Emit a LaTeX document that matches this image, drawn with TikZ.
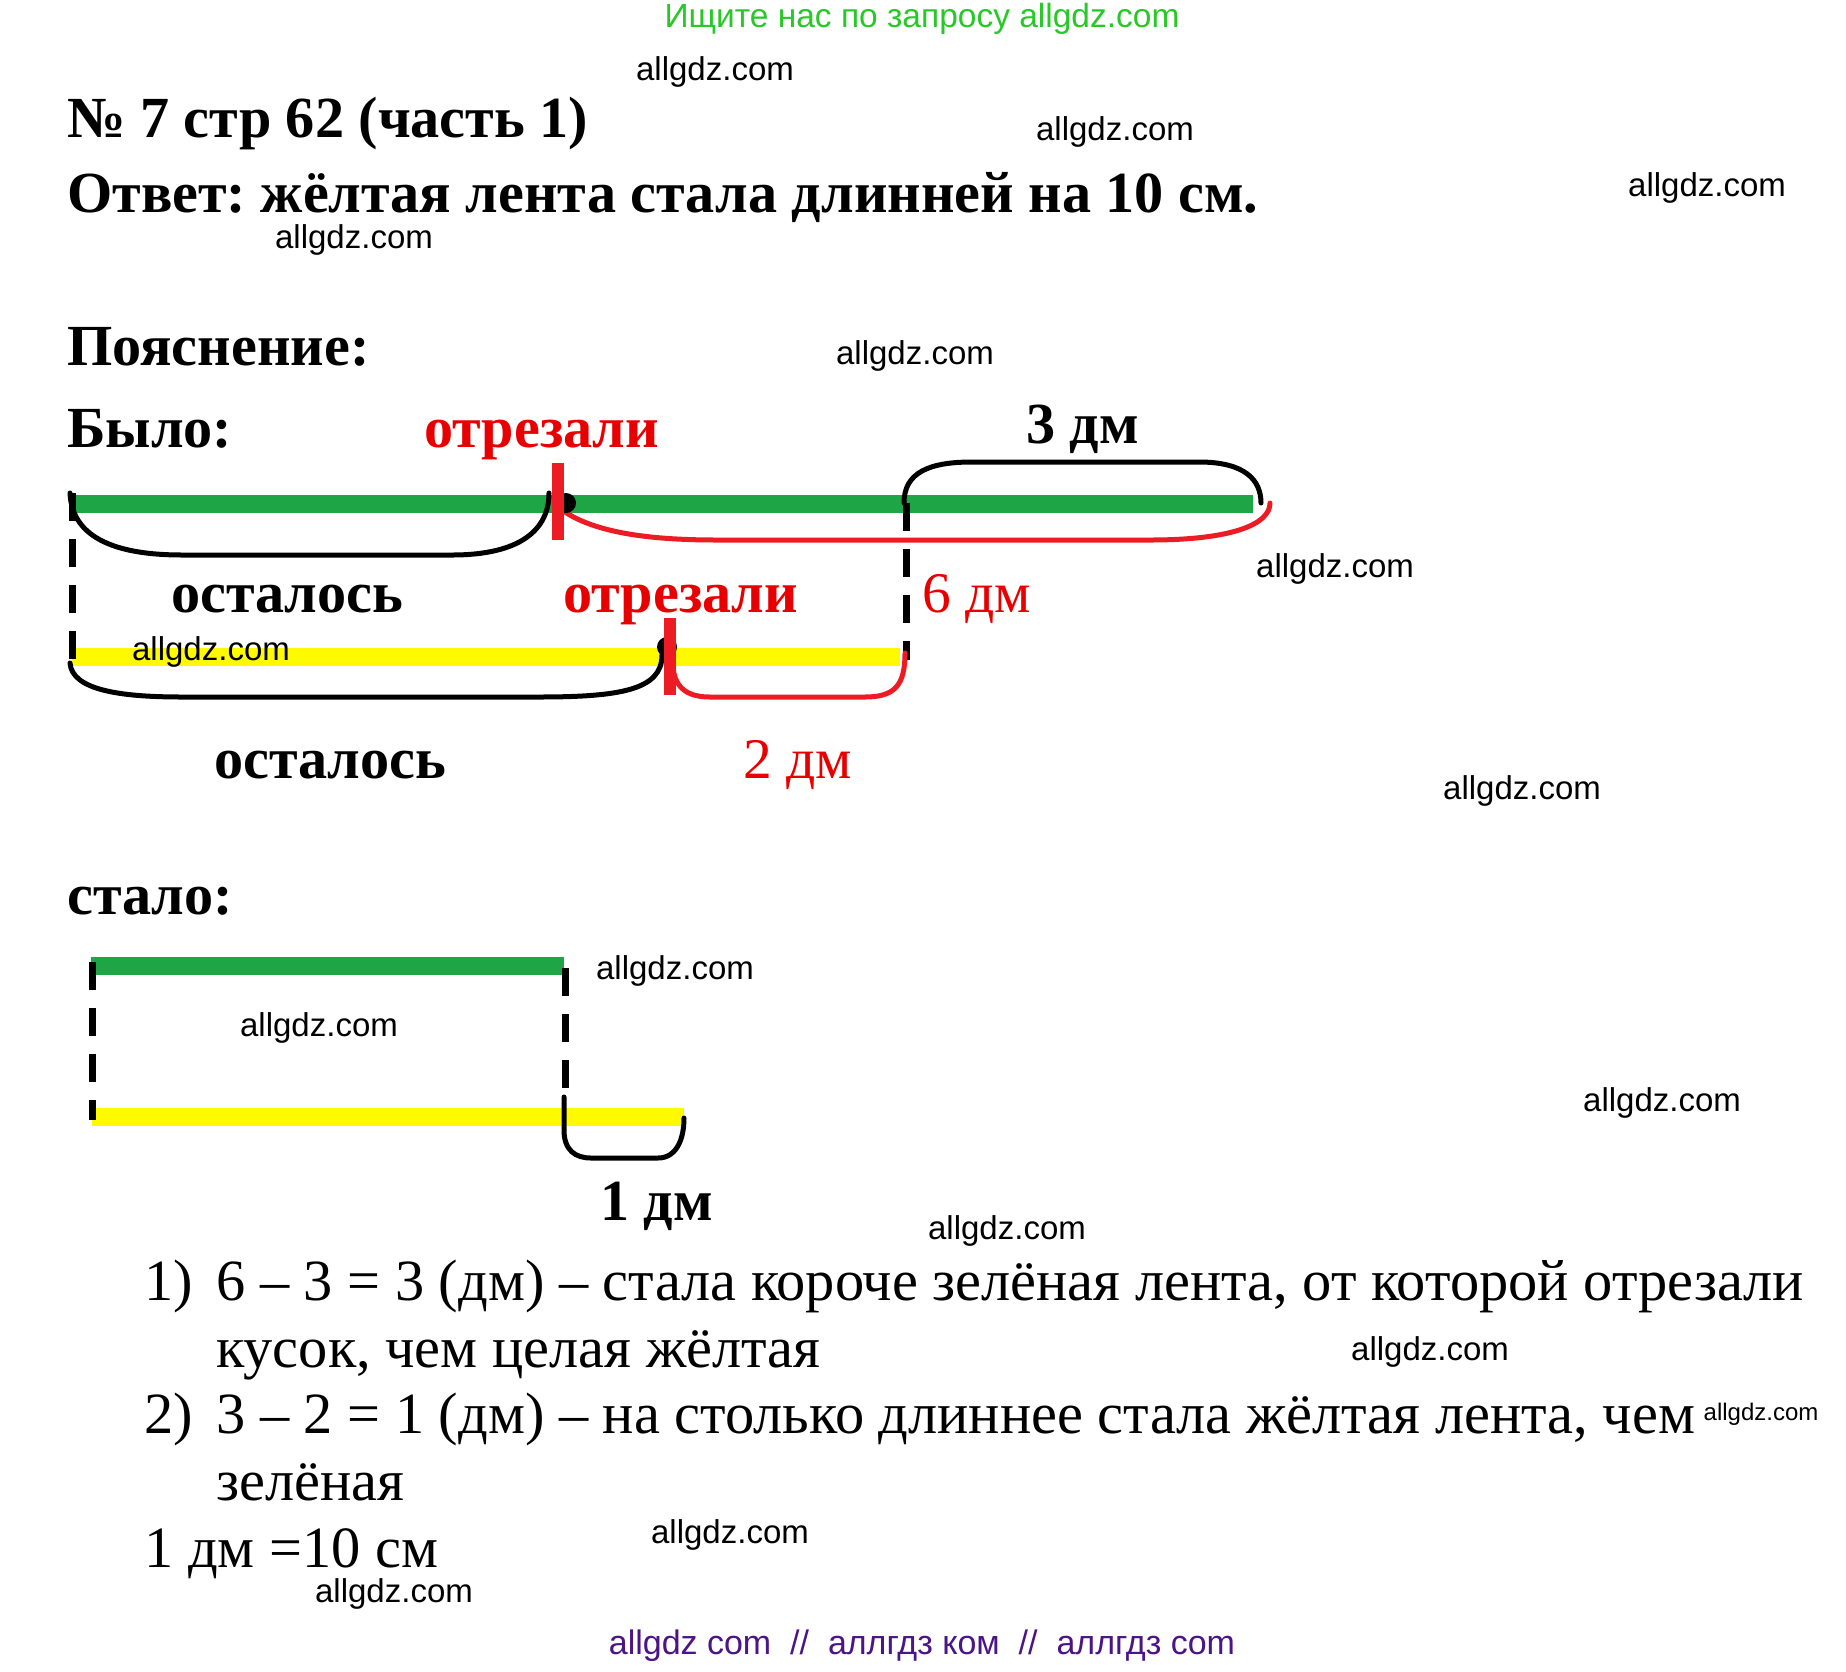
\documentclass[tikz,border=0pt]{standalone}
\usepackage{fontspec}
\usepackage{tikz}
\setmainfont{Liberation Serif}
\newfontfamily\wmfont{Liberation Sans}
\frenchspacing
\definecolor{lentaGreen}{RGB}{30,165,70}
\definecolor{lentaYellow}{RGB}{255,250,0}
\definecolor{cutRed}{RGB}{237,28,36}
\definecolor{txtRed}{RGB}{232,0,0}
\definecolor{siteGreen}{RGB}{40,200,40}
\definecolor{sitePurple}{RGB}{75,20,135}
\tikzset{
  head/.style={anchor=base west, inner sep=0pt, font=\fontsize{58.2}{64}\selectfont\bfseries},
  calc/.style={anchor=base west, inner sep=0pt, font=\fontsize{58.4}{66}\selectfont},
  wmark/.style={inner sep=0pt, font=\wmfont\fontsize{33}{36}\selectfont},
  lenta/.style={line width=18pt},
  skobka/.style={line width=5pt, line cap=round},
  rez/.style={cutRed, line width=12pt},
  punktir/.style={line width=7pt, dash pattern=on 28pt off 18pt}
}

\begin{document}
\begin{tikzpicture}[x=1pt, y=-1pt]
\useasboundingbox[fill=white] (0,0) rectangle (1846,1671);
% titles
\node[wmark, font=\wmfont\fontsize{33.5}{36}\selectfont, text=siteGreen] (site) at (922,19) {Ищите нас по запросу allgdz.com};
\node[head] (nomer) at (67,137) {№ 7 стр 62 (часть 1)};
\node[head] (otvet) at (67,212) {Ответ: жёлтая лента стала длинней на 10 см.};
\node[head] (poyasn) at (67,365) {Пояснение:};
\node[head] (bylo) at (67,447) {Было:};
\node[head, text=txtRed] (otrez1) at (424,447) {отрезали};
\node[head] (tri) at (1026,443) {3 дм};
\node[head] (ost1) at (171,612) {осталось};
\node[head, text=txtRed] (otrez2) at (563,612) {отрезали};
\node[head, font=\fontsize{57.5}{64}\selectfont, text=txtRed] (shest) at (922,612) {6 дм};
\node[head] (ost2) at (214,778) {осталось};
\node[head, font=\fontsize{57.5}{64}\selectfont, text=txtRed] (dva) at (743,778) {2 дм};
\node[head] (stalo) at (67,914) {стало:};
\node[head] (odin) at (600,1220) {1 дм};

% was: green and yellow
\draw[lenta, lentaGreen] (71,504) coordinate (g1) -- (1253,504) coordinate (g2);
\draw[lenta, lentaYellow] (72,657) coordinate (y1) -- (900,657) coordinate (y2);
\draw[punktir] (72,493) -- (72,660);
\draw[punktir] (906,503) -- (906,660);
\draw[skobka] (70,493) .. controls (72,540) and (120,555) .. (182,555) -- (452,555) .. controls (520,555) and (549,530) .. (549,493);
\draw[skobka, cutRed] (565,512) .. controls (600,535) and (660,540) .. (717,540) -- (1150,540) .. controls (1230,540) and (1270,525) .. (1270,503);
\draw[skobka] (904,503) .. controls (904,472) and (930,462) .. (972,462) -- (1199,462) .. controls (1245,462) and (1261,480) .. (1261,503);
\draw[skobka] (70,663) .. controls (72,690) and (120,697) .. (182,697) -- (538,697) .. controls (620,697) and (662,690) .. (662,655);
\draw[skobka, cutRed] (673,667) .. controls (675,690) and (690,697) .. (710,697) -- (865,697) .. controls (895,697) and (905,685) .. (905,653);
\fill (566,503) circle (10pt);
\fill (667,647) circle (10pt);
\draw[rez] (558,463) -- (558,540);
\draw[rez] (670,618) -- (670,695);

% became
\draw[lenta, lentaGreen] (91,966) -- (564,966);
\draw[lenta, lentaYellow] (92,1117) -- (684,1117);
\draw[punktir] (92,962) -- (92,1120);
\draw[punktir] (565,968) -- (565,1100);
\draw[skobka] (564,1097) -- (564,1130) .. controls (564,1150) and (575,1158) .. (591,1158) -- (658,1158) .. controls (676,1158) and (684,1140) .. (684,1118);

% solution
\node[calc] (n1) at (144,1300) {1)};
\node[calc] (s1) at (216,1300) {6 – 3 = 3 (дм) – стала короче зелёная лента, от которой отрезали};
\node[calc] (s1b) at (216,1367) {кусок, чем целая жёлтая};
\node[calc] (n2) at (144,1433) {2)};
\node[calc] (s2) at (216,1433) {3 – 2 = 1 (дм) – на столько длиннее стала жёлтая лента, чем};
\node[calc] (s2b) at (216,1500) {зелёная};
\node[calc] (dm) at (144,1567) {1 дм =10 см};

% watermarks
\node[wmark] (wm1) at (715,72) {allgdz.com};
\node[wmark] (wm2) at (1115,132) {allgdz.com};
\node[wmark] (wm3) at (1707,188) {allgdz.com};
\node[wmark] (wm4) at (354,240) {allgdz.com};
\node[wmark] (wm5) at (915,356) {allgdz.com};
\node[wmark] (wm6) at (1335,569) {allgdz.com};
\node[wmark] (wm7) at (211,652) {allgdz.com};
\node[wmark] (wm8) at (1522,791) {allgdz.com};
\node[wmark] (wm9) at (675,971) {allgdz.com};
\node[wmark] (wm10) at (319,1028) {allgdz.com};
\node[wmark] (wm11) at (1662,1103) {allgdz.com};
\node[wmark] (wm12) at (1007,1231) {allgdz.com};
\node[wmark] (wm13) at (1430,1352) {allgdz.com};
\node[wmark, font=\wmfont\fontsize{24}{28}\selectfont] (wm14) at (1761,1414) {allgdz.com};
\node[wmark] (wm15) at (730,1535) {allgdz.com};
\node[wmark] (wm16) at (394,1594) {allgdz.com};
\node[wmark, font=\wmfont\fontsize{34}{36}\selectfont, text=sitePurple] (bottom) at (922,1646) {allgdz com \ // \ аллгдз ком \ // \ аллгдз com};
\end{tikzpicture}
\end{document}
